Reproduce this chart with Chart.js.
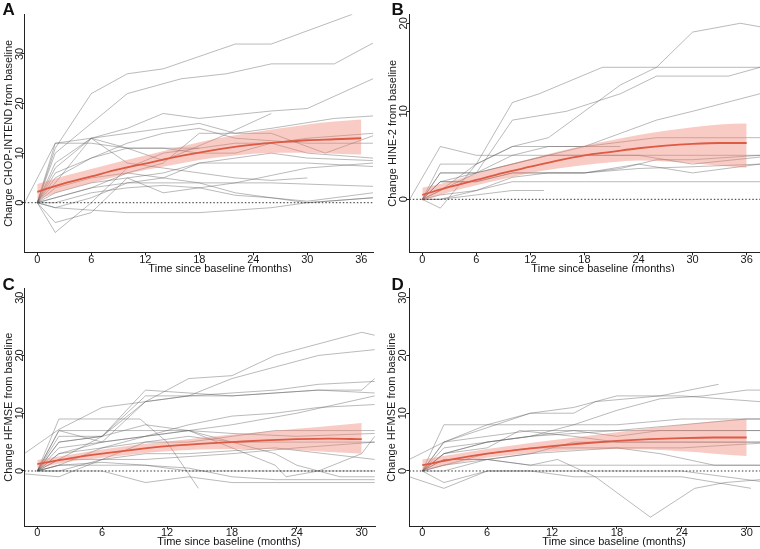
<!DOCTYPE html>
<html>
<head>
<meta charset="utf-8">
<script src="https://cdn.jsdelivr.net/npm/chart.js@4.4.1/dist/chart.umd.min.js"></script>
<style>
  body { margin: 0; background: #fff; }
  #fig { position: relative; width: 760px; height: 549px; }
  #fig canvas { position: absolute; }
</style>
</head>
<body>
<div id="fig">
  <canvas id="pA" width="380" height="272" style="left:0;top:0"></canvas>
  <canvas id="pB" width="380" height="272" style="left:380px;top:0"></canvas>
  <canvas id="pC" width="380" height="277" style="left:0;top:272px"></canvas>
  <canvas id="pD" width="380" height="277" style="left:380px;top:272px"></canvas>
</div>
<script>
// ---- data ----
// tick labels
const xTicks36 = [0, 6, 12, 18, 24, 30, 36];
const xTicks30 = [0, 6, 12, 18, 24, 30];
const yTicksA = [0, 10, 20, 30];
const yTicksB = [0, 10, 20];
const yTicksCD = [0, 10, 20, 30];

// fitted curve + confidence band (months, value)
const fitMonths36 = [0, 3, 6, 9, 12, 15, 18, 21, 24, 27, 30, 33, 36];
const fitMonths30 = [0, 3, 6, 9, 12, 15, 18, 21, 24, 27, 30];

const fitA   = [2.2, 3.9, 5.3, 6.7, 7.9, 9.1, 10.1, 11.0, 11.7, 12.2, 12.6, 12.8, 13.0];
const upperA = [3.8, 5.4, 6.8, 8.2, 9.5, 10.9, 12.2, 13.3, 14.2, 15.0, 15.8, 16.4, 16.8];
const lowerA = [0.6, 2.5, 4.0, 5.4, 6.6, 7.6, 8.6, 9.3, 9.9, 10.1, 10.1, 9.9, 9.7];

const fitB   = [0.5, 1.4, 2.2, 3.0, 3.7, 4.4, 5.0, 5.4, 5.8, 6.1, 6.3, 6.4, 6.4];
const upperB = [1.3, 2.0, 2.9, 3.8, 4.6, 5.4, 6.1, 6.7, 7.3, 7.8, 8.2, 8.5, 8.6];
const lowerB = [-0.2, 0.8, 1.6, 2.3, 3.0, 3.5, 3.9, 4.2, 4.4, 4.3, 4.1, 3.8, 3.6];

const fitC   = [1.2, 2.2, 3.0, 3.7, 4.3, 4.7, 5.0, 5.3, 5.5, 5.6, 5.5];
const upperC = [1.9, 2.8, 3.7, 4.5, 5.1, 5.7, 6.3, 6.8, 7.3, 7.8, 8.3];
const lowerC = [0.5, 1.6, 2.3, 2.9, 3.4, 3.7, 3.8, 3.8, 3.6, 3.3, 3.0];

const fitD   = [1.0, 2.1, 3.0, 3.7, 4.3, 4.8, 5.2, 5.5, 5.7, 5.8, 5.8];
const upperD = [2.0, 2.9, 3.8, 4.6, 5.3, 6.0, 6.7, 7.4, 8.0, 8.6, 9.1];
const lowerD = [0.1, 1.3, 2.3, 2.9, 3.4, 3.7, 3.8, 3.7, 3.4, 3.0, 2.6];

// individual patients: month, value, month, value, ...
const patientsA = [
  [0,0, 2,11, 6,22, 10,26, 14,27, 18,29.5, 22,32, 26,32, 35,38],
  [0,0, 2,10, 6,16, 10,22, 16,25, 21,26, 26,28, 33,28, 37.3,32.2],
  [0,0, 2,7, 6,13, 10,15, 14,18, 18,17, 26,18.5, 30,19, 37.3,25],
  [0,0, 2,5, 6,9, 10,11, 14,8.5, 20,13, 26,18],
  [-1.4,0, 2,12, 6,13, 10,14, 14,15, 18,16, 22,14, 26,15, 33,17, 37.3,17.5],
  [0,0, 2,8, 6,13, 10,11, 14,11, 18,10, 22,10, 26,12, 30,13, 37.3,14],
  [0,0, 2,6, 6,9, 10,12, 14,14, 18,15, 22,13, 26,12.5, 30,12, 37.3,12],
  [0,0, 2,3, 6,5, 10,6, 14,8, 18,14, 22,14, 26,14, 32,10, 37.3,13.5],
  [0,0, 2,-6, 6,0, 10,7, 14,10, 18,11, 22,12, 26,12, 30,10, 37.3,9],
  [0,0, 2,-4, 6,-2, 10,5, 14,6, 18,8, 22,9, 26,10, 30,9, 37.3,8.5],
  [0,0, 2,-1, 6,1, 10,4, 14,5, 18,8, 22,8, 26,8, 30,8, 37.3,7.3],
  [0,0, 2,4, 6,13, 10,8, 14,7, 18,6, 22,5, 26,4.5, 30,5],
  [0,0, 2,2, 6,4, 10,5, 14,2, 18,3, 22,4, 26,5.5, 30,7, 37.3,8],
  [0,0, 2,1, 6,3, 10,4, 14,4, 18,4, 26,4, 37.3,3.3],
  [0,0, 2,1, 6,3, 10,6, 14,5, 18,4, 22,2, 26,1, 30,0.3, 37.3,2],
  [0,0, 2,0, 6,2, 10,3, 14,3.5, 18,3, 22,1.5, 26,1, 30,0, 37.3,1],
  [0,0, 2,-1, 6,-1.5, 10,-2, 14,-2, 18,-2, 26,-1, 30,0, 37.3,1],
  [0,0, 2,12, 6,12, 10,11, 14,11, 18,11]
];
const patientsB = [
  [0,0, 2,1, 6,4, 10,6, 14,7, 18,10, 22,13, 26,15, 30,19, 35.3,20, 37.5,19.6],
  [0,0, 2,-1, 6,4, 10,11, 13,12, 20,15, 26,15, 37.5,15],
  [0,0, 2,1, 6,3, 10,9, 16,10, 22,12, 26,14, 34,14, 37.5,15],
  [0,0, 2,2, 6,3, 10,5, 14,6, 18,6, 22,7.5, 26,9, 30,10, 37.5,12],
  [0,0, 2,4, 6,4, 10,6, 14,6, 18,6, 22,6.5, 26,7, 37.5,7],
  [-1.4,0, 2,6, 6,5, 10,5, 14,5, 18,5, 22,5, 26,5, 37.5,5],
  [0,0, 2,3, 6,3, 10,4, 14,5, 18,5, 24,5, 30,4, 37.5,4.8],
  [0,0, 2,2, 6,2, 10,3, 14,3, 18,3, 24,4, 30,3, 37.5,4],
  [0,0, 2,2, 6,2, 10,3, 14,3, 18,3, 24,3.5, 30,3.7, 37.5,4],
  [0,0, 2,0.5, 6,1, 10,2, 14,2, 18,2, 24,2, 37.5,2],
  [0,0, 2,0, 6,0.5, 10,1, 13.5,1],
  [0,0, 2,0, 6,1, 10,2.5, 14,3, 18,3, 22,3.5, 26,4.5, 30,4.5, 37.5,5],
  [0,0, 2,3, 6,3, 10,4, 14,5, 18,6, 22,6]
];
const patientsC = [
  [0,0, 2,7, 6,5, 10,12, 14,16, 18,16.5, 22,20, 26,22, 30,24, 31.2,23.5],
  [0,0, 2,2, 6,6, 10,13, 14,13, 18,16, 22,18, 26,20, 31.2,21],
  [0,0, 2,6, 6,6, 10,12, 14,13, 18,13, 22,13.5, 26,14, 30,14, 31.2,16],
  [-1.2,3, 2,7.2, 6,11, 10,12, 14,13, 18,13.5, 22,14, 26,15, 31.2,15.5],
  [0,0, 2,9, 9.5,9, 12,5, 14.9,-3],
  [0,0, 2,5, 6,6, 10,14, 14,13.5, 18,13, 26,14, 31.2,13.5],
  [0,0, 2,4, 6,5, 10,6, 14,8, 18,9.5, 22,10, 26,11, 31.2,11.5],
  [0,0, 2,3, 6,4, 10,6, 14,7, 18,8, 24,10, 31.2,13],
  [0,0, 2,1, 6,4, 10,5, 14,5, 18,6, 22,7, 31.2,7],
  [0,0, 2,7, 6,7, 10,7, 14,7, 18,6.5, 24,6, 31.2,6.5],
  [0,0, 2,5, 6,6, 10,8, 14,7, 18,5, 22,3, 24,1, 28,-1, 31.2,-1],
  [0,0, 2,3, 6,5, 10,6, 14,7, 18,4, 22,1, 23,-1, 26,0, 30,3, 31.2,6],
  [0,0, 2,0, 6,2, 10,2, 14,2.5, 18,3, 24,4, 31.2,5],
  [0,0, 2,1, 6,1, 10,1, 14,0, 18,0, 24,0, 31.2,0],
  [0,0, 2,0, 6,0, 10,-2, 14,-1, 18,-2, 22,-2, 31.2,-2],
  [-1.2,-0.5, 2,-1, 6,2, 10,5, 14,6, 18,5, 22,5, 31.2,5],
  [0,0, 2,2, 6,2, 10,3, 14,3, 18,3.5, 22,4, 31.2,2],
  [0,0, 2,1, 6,1.5, 10,1, 14,0.5, 18,-1, 22,-1.5, 31.2,-1.5]
];
const patientsD = [
  [0,0, 2,5, 6,7.5, 10,10, 14,10, 16,12, 22,13, 27.4,15],
  [0,0, 2,5, 6,8, 10,10, 14,11, 18,13, 24,13, 31.25,12],
  [0,0, 2,3, 6,5, 10,6, 14,8, 18,10.5, 22,12.5, 26,13, 30,14, 31.25,14],
  [0,0, 2,8, 6,8, 10,8, 14,8, 18,8, 24,9, 31.25,9],
  [0,0, 2,4, 6,5, 10,6, 14,6.5, 18,7, 24,8, 30,9, 31.25,9],
  [0,0, 2,3, 6,5, 10,6, 14,7, 18,6, 22,7, 31.25,7],
  [0,0, 2,3, 6,4, 9,7, 14,6, 18,5, 24,5, 31.25,5],
  [0,0, 2,1, 6,3, 10,4, 14,4, 18,4, 24,4, 31.25,4.8],
  [0,0, 2,2, 6,2, 10,3, 14,3.5, 18,4, 22,3, 27,1, 31.25,1],
  [0,0, 2,2, 6,2, 10,1, 12.5,2, 16,-1, 21.1,-8, 25.2,-3, 28,-2, 31.25,-1.5],
  [0,0, 2,0, 6,2, 10,1, 14,1, 18,1, 24,1, 31.25,1],
  [0,0, 2,-2, 6,0, 10,0, 14,-1, 18,-1, 24,-1, 30.4,-3],
  [-1.2,-1, 2,-3, 6,0, 10,0, 14,0, 18,0, 24,0, 31.25,-1.8],
  [-1.2,2, 2,5, 6,6, 10,7, 14,7, 18,7, 24,7, 31.25,7],
  [0,0, 2,1, 6,2, 10,3, 14,5, 18,5, 24,5, 31.25,5]
];

// ---- drawing ----
const FONT = "'Liberation Sans', Arial, Helvetica, sans-serif";
Chart.defaults.font.family = FONT;
Chart.defaults.color = '#1a1a1a';

// panel letter + x axis title (title sits off-centre in the original)
const panelText = {
  id: 'panelText',
  afterDraw(chart, args, o) {
    const ctx = chart.ctx;
    ctx.save();
    ctx.fillStyle = '#111';
    ctx.font = 'bold 17px ' + FONT;
    ctx.textAlign = 'left';
    ctx.textBaseline = 'alphabetic';
    ctx.fillText(o.letter, o.letterX, o.letterY);
    ctx.font = '11px ' + FONT;
    ctx.textAlign = 'center';
    ctx.textBaseline = 'middle';
    ctx.fillText(o.xTitle, o.titleX, o.titleY);
    ctx.restore();
  }
};

function pairs(list) {
  const pts = [];
  for (let i = 0; i < list.length; i += 2) pts.push({ x: list[i], y: list[i + 1] });
  return pts;
}
function zip(xs, ys) {
  return xs.map((x, i) => ({ x: x, y: ys[i] }));
}

function makePanel(id, p) {
  const datasets = [];
  // red fitted curve on top
  datasets.push({ data: zip(p.months, p.fit), borderColor: '#dd5a44', borderWidth: 1.8,
    pointRadius: 0, cubicInterpolationMode: 'monotone', order: 0 });
  // dotted zero line
  datasets.push({ data: [{ x: p.xMin, y: 0 }, { x: p.xMax, y: 0 }], borderColor: '#333',
    borderWidth: 1, borderDash: [1.5, 2], pointRadius: 0, order: 1 });
  // confidence band
  datasets.push({ data: zip(p.months, p.upper), borderWidth: 0, pointRadius: 0,
    cubicInterpolationMode: 'monotone', fill: '+1', backgroundColor: 'rgba(240,125,110,0.40)', order: 2 });
  datasets.push({ data: zip(p.months, p.lower), borderWidth: 0, pointRadius: 0,
    cubicInterpolationMode: 'monotone', fill: false, order: 2 });
  // spaghetti
  p.patients.forEach(tr => {
    datasets.push({ data: pairs(tr), borderColor: 'rgba(90,90,90,0.47)', borderWidth: 0.9,
      pointRadius: 0, tension: 0, order: 5 });
  });

  new Chart(document.getElementById(id), {
    type: 'line',
    data: { datasets: datasets },
    plugins: [panelText],
    options: {
      responsive: false,
      animation: false,
      layout: { padding: { top: p.top, right: p.right, left: 0, bottom: 0 } },
      plugins: {
        legend: { display: false },
        tooltip: { enabled: false },
        panelText: { letter: p.letter, letterX: p.letterX, letterY: p.letterY,
          xTitle: 'Time since baseline (months)', titleX: p.titleX, titleY: p.titleY }
      },
      scales: {
        x: {
          type: 'linear', min: p.xMin, max: p.xMax,
          afterBuildTicks: s => { s.ticks = p.xTicks.map(v => ({ value: v })); },
          afterFit: s => { s.height = p.xH; },
          grid: { drawOnChartArea: false, drawTicks: true, tickLength: 3, color: '#222' },
          border: { color: '#222', width: 1 },
          ticks: { padding: p.xPad, maxRotation: 0, autoSkip: false, font: { size: 11 }, color: '#1a1a1a' }
        },
        y: {
          type: 'linear', min: p.yMin, max: p.yMax,
          afterBuildTicks: s => { s.ticks = p.yTicks.map(v => ({ value: v })); },
          afterFit: s => { s.width = p.yW; },
          grid: { drawOnChartArea: false, drawTicks: true, tickLength: 3, color: '#222' },
          border: { color: '#222', width: 1 },
          ticks: { minRotation: 90, maxRotation: 90, crossAlign: 'center', padding: p.yPad,
            font: { size: 11 }, color: '#1a1a1a' },
          title: { display: true, text: p.yTitle, font: { size: 11 }, color: '#1a1a1a',
            padding: { top: p.yTitlePad, bottom: 0 } }
        }
      }
    }
  });
}

makePanel('pA', {
  letter: 'A', letterX: 2.5, letterY: 15, titleX: 220, titleY: 269,
  top: 14.3, right: 7, yW: 24.3, xH: 19.7, xPad: -1.9, yPad: -4.6, yTitlePad: 2.4,
  xMin: -1.44, xMax: 37.3, yMin: -10, yMax: 38, xTicks: xTicks36, yTicks: yTicksA,
  yTitle: 'Change CHOP-INTEND from baseline',
  months: fitMonths36, fit: fitA, upper: upperA, lower: lowerA, patients: patientsA
});
makePanel('pB', {
  letter: 'B', letterX: 11.5, letterY: 15, titleX: 223, titleY: 269,
  top: 14.3, right: 0, yW: 29.3, xH: 19.7, xPad: -1.9, yPad: -3.6, yTitlePad: 5.9,
  xMin: -1.44, xMax: 37.48, yMin: -6.02, yMax: 21.02, xTicks: xTicks36, yTicks: yTicksB,
  yTitle: 'Change HINE-2 from baseline',
  months: fitMonths36, fit: fitB, upper: upperB, lower: lowerB, patients: patientsB
});
makePanel('pC', {
  letter: 'C', letterX: 2.5, letterY: 18.3, titleX: 229, titleY: 269.5,
  top: 16.3, right: 5, yW: 24.3, xH: 23, xPad: -3.1, yPad: -4.6, yTitlePad: 2.4,
  xMin: -1.2, xMax: 31.23, yMin: -9.52, yMax: 31.62, xTicks: xTicks30, yTicks: yTicksCD,
  yTitle: 'Change HFMSE from baseline',
  months: fitMonths30, fit: fitC, upper: upperC, lower: lowerC, patients: patientsC
});
makePanel('pD', {
  letter: 'D', letterX: 11.5, letterY: 17.5, titleX: 234, titleY: 269.5,
  top: 16.3, right: 0, yW: 29.3, xH: 23, xPad: -3.1, yPad: -3.1, yTitlePad: 5.4,
  xMin: -1.2, xMax: 31.23, yMin: -9.52, yMax: 31.62, xTicks: xTicks30, yTicks: yTicksCD,
  yTitle: 'Change HFMSE from baseline',
  months: fitMonths30, fit: fitD, upper: upperD, lower: lowerD, patients: patientsD
});
</script>
</body>
</html>
